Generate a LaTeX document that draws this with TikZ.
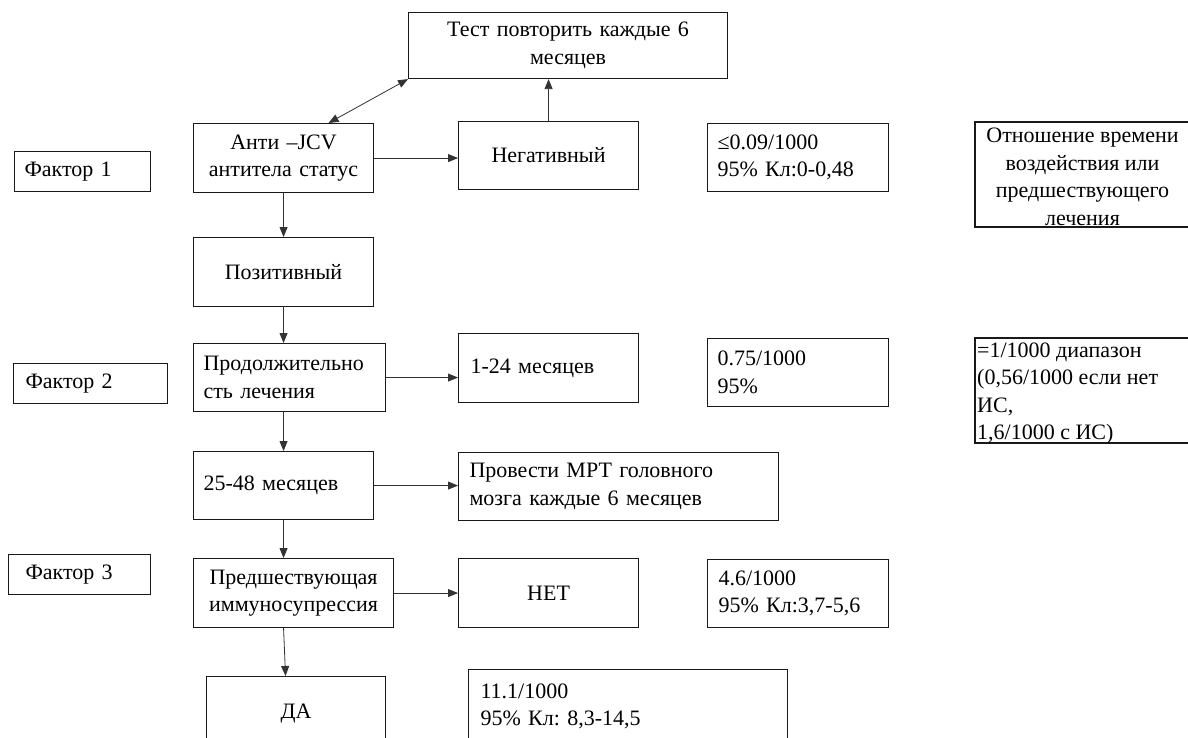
\documentclass[tikz,border=0pt]{standalone}
\usepackage{fontspec}
\setmainfont{Liberation Serif}
\usetikzlibrary{arrows.meta}
\frenchspacing
\tikzset{
  box/.style={draw=black!90, line width=1.1pt, rectangle, anchor=north west, inner ysep=0pt,
    font=\fontsize{22}{27.5}\selectfont},
  cbox/.style={box, align=center},
  lbox/.style={box, align=left},
  wh/.style n args={2}{minimum width=#1, minimum height=#2},
  txt/.style={inner sep=0pt, font=\fontsize{22}{27.5}\selectfont},
  arr/.style={draw=black!80, line width=0.8pt, -{Triangle[length=10pt,width=8pt]}},
  darr/.style={draw=black!80, line width=0.8pt, {Triangle[length=10pt,width=8pt]}-{Triangle[length=10pt,width=8pt]}},
}
\begin{document}
\frenchspacing
\begin{tikzpicture}[x=1pt,y=-1pt]
\useasboundingbox (0,0) rectangle (1188,737);
\clip (0,0) rectangle (1188,737);
\fill[white] (0,0) rectangle (1188,737);

% top
\node[cbox, wh={319pt}{66pt}, text width=309pt, inner xsep=5pt] (test) at (408,12) {Тест повторить каждые 6\\месяцев};

% row 1
\node[lbox, wh={136pt}{40pt}, text width=116pt, inner xsep=10pt] (f1) at (14,151) {Фактор 1};
\node[cbox, wh={180pt}{69pt}, text width=170pt, inner xsep=5pt] (anti) at (193,123) {Анти –JCV\\антитела статус};
\node[cbox, wh={180pt}{68pt}, text width=170pt, inner xsep=5pt] (neg) at (458,121) {Негативный};
\node[lbox, wh={181pt}{68pt}, text width=161pt, inner xsep=10pt] (r1) at (707,123) {≤0.09/1000\\95\% Кл:0-0,48};
\draw[line width=1.1pt, draw=black!90] (975,122) rectangle (1190,227);
\node[txt, align=center] (otn) at (1082.5,177) {Отношение времени\\воздействия или\\предшествующего\\лечения};

% row 2
\node[cbox, wh={180pt}{69pt}, text width=170pt, inner xsep=5pt] (pos) at (193,237) {Позитивный};

% row 3
\node[lbox, wh={154pt}{40pt}, text width=130pt, inner xsep=12pt] (f2) at (13,363) {Фактор 2};
\node[lbox, wh={192pt}{68pt}, text width=172pt, inner xsep=10pt] (prod) at (193,343) {Продолжительно\\сть лечения};
\node[lbox, wh={180pt}{69pt}, text width=156pt, inner xsep=12pt] (m124) at (458,333) {1-24 месяцев};
\node[lbox, wh={181pt}{68pt}, text width=161pt, inner xsep=10pt] (r2) at (707,338) {0.75/1000\\95\%};
\draw[line width=1.1pt, draw=black!90] (975,338) rectangle (1190,443);
\node[txt, align=left, anchor=west] (eq) at (977,393.5) {=1/1000 диапазон\\(0,56/1000 если нет\\ИС,\\1,6/1000 с ИС)};

% row 4
\node[lbox, wh={180pt}{68pt}, text width=160pt, inner xsep=10pt] (m2548) at (193,451) {25-48 месяцев};
\node[lbox, wh={320pt}{68pt}, text width=298pt, inner xsep=11pt] (mrt) at (458,452) {Провести МРТ головного\\мозга каждые 6 месяцев};

% row 5
\node[lbox, wh={142pt}{40pt}, text width=108pt, inner xsep=17pt] (f3) at (8,554) {Фактор 3};
\node[cbox, wh={200pt}{69pt}, text width=194pt, inner xsep=3pt] (pred) at (193,558) {Предшествующая\\иммуносупрессия};
\node[cbox, wh={180pt}{69pt}, text width=170pt, inner xsep=5pt] (net) at (458,558) {НЕТ};
\node[lbox, wh={181pt}{68pt}, text width=159pt, inner xsep=11pt] (r3) at (707,559) {4.6/1000\\95\% Кл:3,7-5,6};

% row 6
\node[cbox, wh={179pt}{74pt}, text width=169pt, inner xsep=5pt] (da) at (206,676) {ДА};
\node[lbox, wh={319pt}{74pt}, text width=295pt, inner xsep=12pt] (r4) at (468,669) {11.1/1000\\95\% Кл: 8,3-14,5};

% connectors
\draw[darr] ([xshift=45pt]anti.north) -- (test.south west);
\draw[arr] (neg.north) -- (neg.north |- test.south);
\draw[arr] (anti.east) -- (anti.east -| neg.west);
\draw[arr] (anti.south) -- (anti.south |- pos.north);
\draw[arr] (pos.south) -- (pos.south |- prod.north);
\draw[arr] (prod.east) -- (prod.east -| m124.west);
\draw[arr] (m2548.north |- prod.south) -- (m2548.north);
\draw[arr] (m2548.east) -- (m2548.east -| mrt.west);
\draw[arr] (m2548.south) -- (m2548.south |- pred.north);
\draw[arr] (pred.east) -- (pred.east -| net.west);
\draw[arr] ([xshift=-10pt]pred.south) -- ([xshift=-10.5pt]da.north);
\end{tikzpicture}
\end{document}
